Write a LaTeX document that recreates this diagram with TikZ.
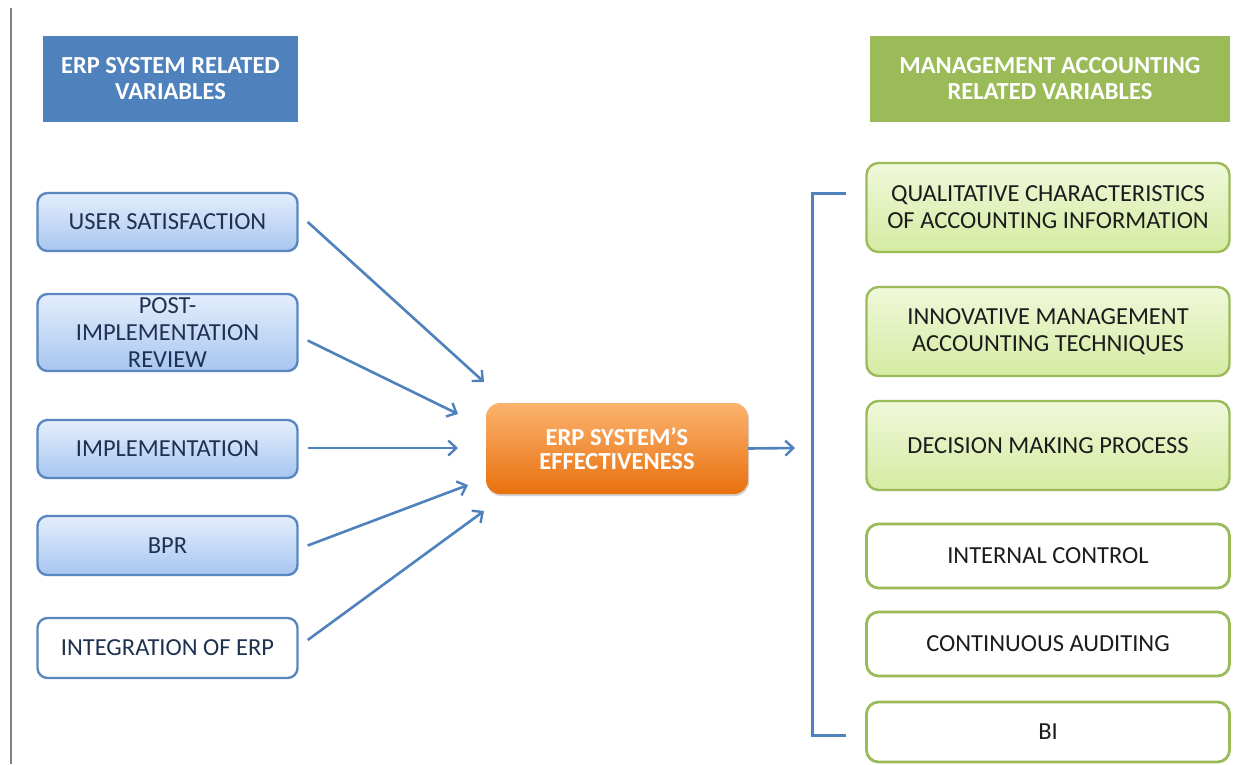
\documentclass[tikz,border=0pt]{standalone}
\usepackage{fontspec}
\setmainfont{Carlito}
\usetikzlibrary{arrows.meta,shadows}
\definecolor{hblue}{HTML}{4F81BD}
\definecolor{hgreen}{HTML}{9BBB59}
\definecolor{lbtop}{HTML}{E3EEFC}
\definecolor{lbbot}{HTML}{A8C6F0}
\definecolor{lbline}{HTML}{5A87C0}
\definecolor{gtop}{HTML}{F0F8DA}
\definecolor{gbot}{HTML}{D5EBA2}
\definecolor{otop}{HTML}{FBB36E}
\definecolor{obot}{HTML}{E8700E}
\definecolor{ltxt}{HTML}{1F3150}
\definecolor{rtxt}{HTML}{1C1C1C}
\begin{document}
\begin{tikzpicture}[x=1pt,y=-1pt,
  every node/.style={inner sep=0pt, align=center, font=\fontsize{24.5}{27}\selectfont},
  header/.style={fill=#1, text=white, font=\fontsize{24.5}{26}\selectfont\bfseries, minimum height=86pt},
  lbox/.style={draw=lbline, line width=2.4pt, rounded corners=10pt, top color=lbtop, bottom color=lbbot, text=ltxt, minimum width=260pt},
  lwbox/.style={draw=lbline, line width=2.4pt, rounded corners=10pt, fill=white, text=ltxt, minimum width=260pt},
  gbox/.style={draw=hgreen, line width=2.4pt, rounded corners=12pt, top color=gtop, bottom color=gbot, text=rtxt, minimum width=363pt},
  gwbox/.style={draw=hgreen, line width=2.8pt, rounded corners=12pt, fill=white, text=rtxt, minimum width=363pt},
  obox/.style={rounded corners=14pt, top color=otop, bottom color=obot, text=white, font=\fontsize{24.5}{24}\selectfont\bfseries, minimum width=262pt, minimum height=91pt, drop shadow={opacity=0.35, shadow xshift=1pt, shadow yshift=-2pt}},
  arr/.style={draw=hblue, line width=2.6pt, -{Straight Barb[length=8pt,width=15pt,line width=2.4pt]}},
  brk/.style={draw=hblue, line width=3pt}
]
\useasboundingbox (0,0) rectangle (1236,764);
\fill[white] (0,0) rectangle (1236,764);
\draw[gray, line width=1.4pt] (11,8) -- (11,764);

% headers
\node[header=hblue, minimum width=255pt] (hl) at (170.5,79) {ERP SYSTEM RELATED\\VARIABLES};
\node[header=hgreen, minimum width=360pt] (hr) at (1050,79) {MANAGEMENT ACCOUNTING\\RELATED VARIABLES};

% left boxes
\node[lbox, minimum height=58pt] (us) at (167.5,222) {USER SATISFACTION};
\node[lbox, minimum height=77pt] (pir) at (167.5,332.5) {POST-\\IMPLEMENTATION\\REVIEW};
\node[lbox, minimum height=58pt] (imp) at (167.5,449) {IMPLEMENTATION};
\node[lbox, minimum height=59pt] (bpr) at (167.5,545.5) {BPR};
\node[lwbox, minimum height=60pt] (int) at (167.5,648) {INTEGRATION OF ERP};

% center
\node[obox] (eff) at (617,448.5) {ERP SYSTEM'S\\EFFECTIVENESS};

% right boxes
\node[gbox, minimum height=89pt] (qual) at (1048,207.5) {QUALITATIVE CHARACTERISTICS\\OF ACCOUNTING INFORMATION};
\node[gbox, minimum height=89pt] (inn) at (1048,331.5) {INNOVATIVE MANAGEMENT\\ACCOUNTING TECHNIQUES};
\node[gbox, minimum height=89pt] (dec) at (1048,445.5) {DECISION MAKING PROCESS};
\node[gwbox, minimum height=64pt] (ic) at (1048,556) {INTERNAL CONTROL};
\node[gwbox, minimum height=64pt] (ca) at (1048,644) {CONTINUOUS AUDITING};
\node[gwbox, minimum height=60pt] (bi) at (1048,732) {BI};

% arrow targets
\coordinate (t1) at (484,382);
\coordinate (t2) at (458,414);
\coordinate (t3) at (458,448);
\coordinate (t4) at (468,485);
\coordinate (t5) at (484,511);
\coordinate (t6) at (795,448);

\draw[arr] ([xshift=9pt]us.east) -- (t1);
\draw[arr] ([xshift=9pt,yshift=-8pt]pir.east) -- (t2);
\draw[arr] ([xshift=9pt,yshift=1pt]imp.east) -- (t3);
\draw[arr] ([xshift=9pt]bpr.east) -- (t4);
\draw[arr] ([xshift=9pt,yshift=8pt]int.east) -- (t5);
\draw[arr] (eff.east) -- (t6);

% bracket
\coordinate (b1) at (846,193);
\coordinate (b2) at (812,193);
\coordinate (b3) at (812,735);
\coordinate (b4) at (846,735);
\draw[brk] (b1) -- (b2) -- (b3) -- (b4);
\end{tikzpicture}
\end{document}
